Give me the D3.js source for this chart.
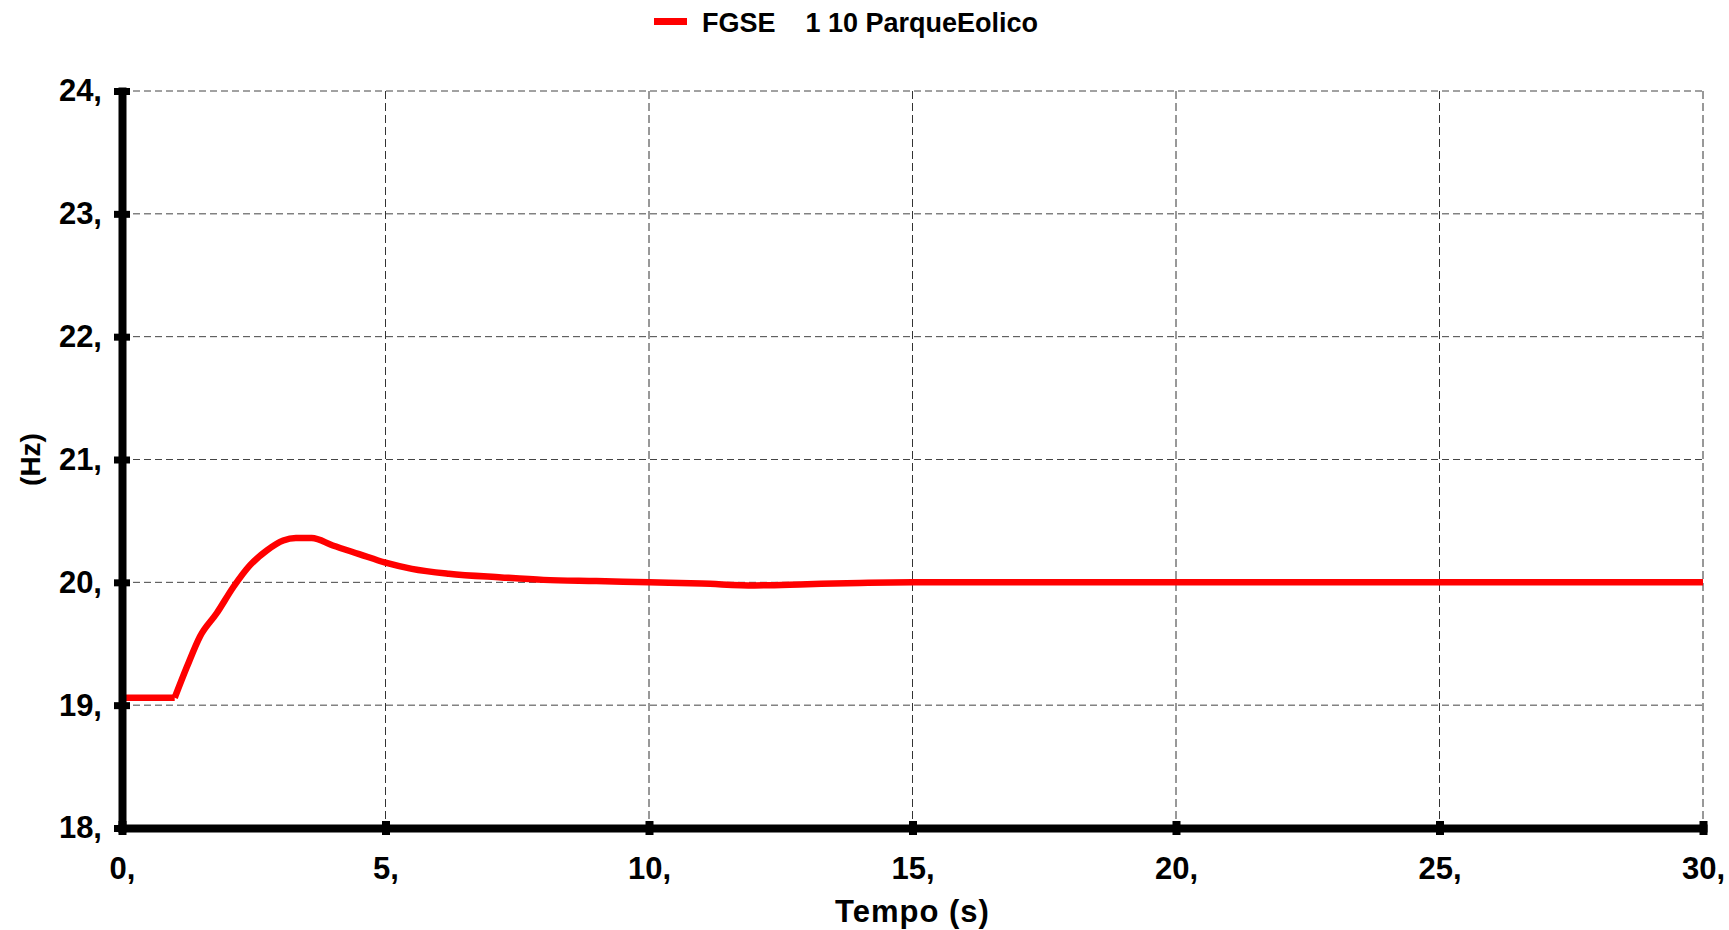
<!DOCTYPE html>
<html>
<head>
<meta charset="utf-8">
<script src="https://cdn.jsdelivr.net/npm/d3@7"></script>
<style>
  body { margin: 0; background: #fff; }
  text { font-family: "Liberation Sans", Arial, sans-serif; font-weight: bold; fill: #000; }
</style>
</head>
<body>
<div id="chart-area"></div>
<script>
// time (s) and frequency (Hz)
var tempo = [0, 1.0, 1.23, 1.48, 1.8, 2.11, 2.43, 2.75, 3.06, 3.3, 3.6, 4.0, 4.5, 5.0, 5.5, 6.2, 7.2, 8, 9, 10, 11, 12, 13, 14, 15, 20, 25, 30];
var freq = [19.06, 19.06, 19.31, 19.56, 19.75, 19.96, 20.14, 20.26, 20.34, 20.36, 20.36, 20.30, 20.23, 20.16, 20.11, 20.07, 20.04, 20.02, 20.01, 20.0, 19.99, 19.975, 19.985, 19.995, 20.0, 20.0, 20.0, 20.0];
var xTicks = [0, 5, 10, 15, 20, 25, 30];
var yTicks = [18, 19, 20, 21, 22, 23, 24];
var seriesName = "FGSE    1 10 ParqueEolico";
var stepTime = 1.0; // disturbance instant: flat before, smooth after

var data = tempo.map(function(t, i) { return {t: t, v: freq[i]}; });

var margin = {top: 91, right: 26, bottom: 102, left: 122};
var width = 1729 - margin.left - margin.right;
var height = 930 - margin.top - margin.bottom;

var svg = d3.select("#chart-area")
	.append("svg")
		.attr("width", 1729)
		.attr("height", 930);

var g = svg.append("g")
	.attr("transform", "translate(" + margin.left + ", " + margin.top + ")");

var x = d3.scaleLinear().domain([0, 30]).range([0, width]);
var y = d3.scaleLinear().domain([18, 24]).range([height, 0]);

// grid
g.append("g").selectAll("line")
	.data(xTicks.filter(function(d) { return d > 0; }))
	.enter().append("line")
		.attr("x1", function(d) { return x(d); })
		.attr("x2", function(d) { return x(d); })
		.attr("y1", 0)
		.attr("y2", height)
		.attr("stroke", "#333")
		.attr("stroke-width", 1)
		.attr("stroke-dasharray", "8,4");

g.append("g").selectAll("line")
	.data(yTicks.filter(function(d) { return d > 18; }))
	.enter().append("line")
		.attr("x1", 0)
		.attr("x2", width)
		.attr("y1", function(d) { return y(d); })
		.attr("y2", function(d) { return y(d); })
		.attr("stroke", "#444")
		.attr("stroke-width", 1)
		.attr("stroke-dasharray", "7,4");

// series
var flatLine = d3.line()
	.x(function(d) { return x(d.t); })
	.y(function(d) { return y(d.v); });
var smoothLine = d3.line()
	.curve(d3.curveMonotoneX)
	.x(function(d) { return x(d.t); })
	.y(function(d) { return y(d.v); });

g.append("path")
	.datum(data.filter(function(d) { return d.t <= stepTime; }))
	.attr("d", flatLine)
	.attr("fill", "none")
	.attr("stroke", "#ff0000")
	.attr("stroke-width", 6.5);

g.append("path")
	.datum(data.filter(function(d) { return d.t >= stepTime; }))
	.attr("d", smoothLine)
	.attr("fill", "none")
	.attr("stroke", "#ff0000")
	.attr("stroke-width", 6.5)
	.attr("stroke-linejoin", "round");

// axes
var leftAxis = d3.axisLeft(y).tickValues(yTicks).tickSize(0).tickPadding(20)
	.tickFormat(function(d) { return d + ","; });
var yAxis = g.append("g").attr("class", "left axis").call(leftAxis);

var bottomAxis = d3.axisBottom(x).tickValues(xTicks).tickSize(0).tickPadding(29)
	.tickFormat(function(d) { return d + ","; });
var xAxis = g.append("g").attr("class", "bottom axis")
	.attr("transform", "translate(0, " + height + ")")
	.call(bottomAxis);

[xAxis, yAxis].forEach(function(a) {
	a.select(".domain").attr("stroke", "#000").attr("stroke-width", 8).attr("stroke-linecap", "square");
	a.selectAll(".tick text")
		.attr("font-size", "31px")
		.attr("font-family", "Liberation Sans, Arial, sans-serif")
		.attr("font-weight", "bold")
		.attr("fill", "#000");
});

yAxis.selectAll(".tick line")
	.attr("x1", -8).attr("x2", 8)
	.attr("stroke", "#000").attr("stroke-width", 7);
xAxis.selectAll(".tick line")
	.attr("y1", -7).attr("y2", 7)
	.attr("stroke", "#000").attr("stroke-width", 8);

// axis labels
g.append("text")
	.attr("x", width / 2)
	.attr("y", height + 94)
	.attr("font-size", "31px")
	.attr("letter-spacing", "1px")
	.attr("text-anchor", "middle")
	.text("Tempo (s)");

g.append("text")
	.attr("x", -(height / 2))
	.attr("y", -margin.left + 30)
	.attr("dy", "0.35em")
	.attr("font-size", "28px")
	.attr("text-anchor", "middle")
	.attr("transform", "rotate(-90)")
	.text("(Hz)");

// legend
svg.append("line")
	.attr("x1", 654).attr("x2", 687)
	.attr("y1", 21.5).attr("y2", 21.5)
	.attr("stroke", "#ff0000")
	.attr("stroke-width", 7);

svg.append("text")
	.attr("x", 702)
	.attr("y", 32)
	.attr("font-size", "27px")
	.style("white-space", "pre")
	.attr("xml:space", "preserve")
	.text(seriesName);
</script>
</body>
</html>
